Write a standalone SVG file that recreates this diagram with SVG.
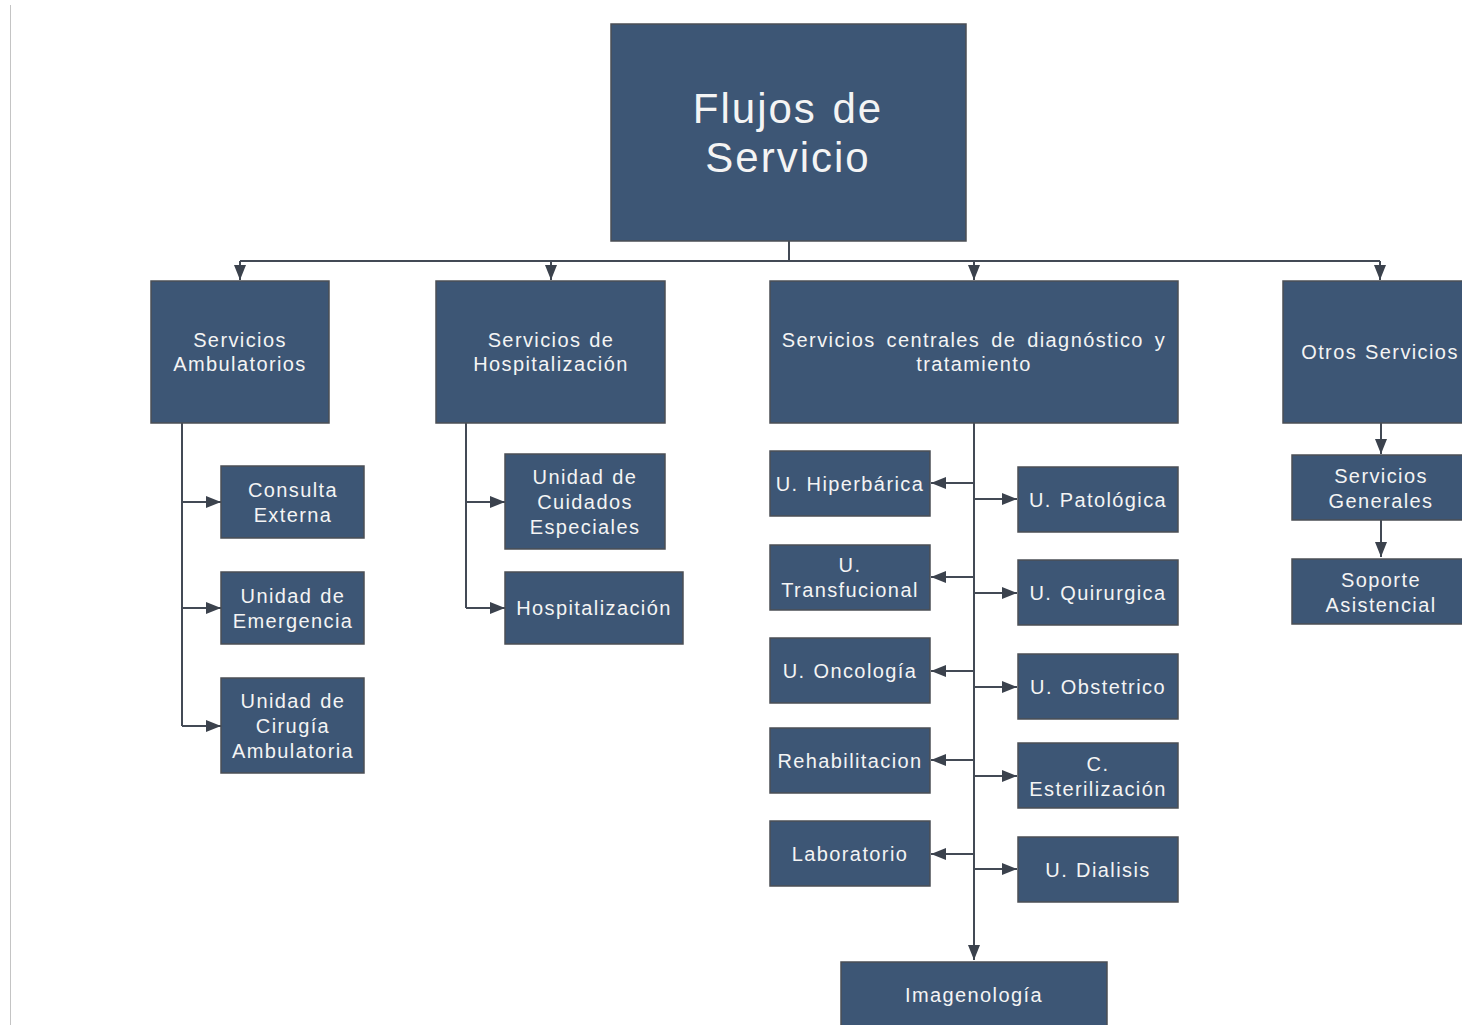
<svg xmlns="http://www.w3.org/2000/svg" width="1462" height="1025" viewBox="0 0 1462 1025">
<style>
.box{fill:#3d5675;stroke:#4b4f55;stroke-width:1.5}
.t{font-family:"Liberation Sans",Arial,sans-serif;font-size:20px;fill:#f4f4f4;text-anchor:middle;dominant-baseline:central;letter-spacing:1.4px;word-spacing:1px}
.tt{font-size:42px;letter-spacing:2px;word-spacing:2px}
.c{fill:none;stroke:#434a55;stroke-width:2}
</style>
<defs>
<marker id="ah" viewBox="0 0 15 12" refX="15" refY="6" markerWidth="15" markerHeight="12" markerUnits="userSpaceOnUse" orient="auto">
<path d="M0,0 L15,6 L0,12 z" fill="#3b424d"/>
</marker>
</defs>
<rect width="1462" height="1025" fill="#ffffff"/>
<line x1="10.5" y1="5" x2="10.5" y2="1025" stroke="#c4c4c4" stroke-width="1"/>
<g id="connectors">
<path class="c" d="M789,241 V261"/>
<path class="c" d="M240,261 H1380"/>
<path class="c" d="M240,261 V280" marker-end="url(#ah)"/>
<path class="c" d="M551,261 V280" marker-end="url(#ah)"/>
<path class="c" d="M974,261 V280" marker-end="url(#ah)"/>
<path class="c" d="M1380,261 V280" marker-end="url(#ah)"/>
<path class="c" d="M182,423 V726"/>
<path class="c" d="M182,502 H221" marker-end="url(#ah)"/>
<path class="c" d="M182,608 H221" marker-end="url(#ah)"/>
<path class="c" d="M182,726 H221" marker-end="url(#ah)"/>
<path class="c" d="M466,423 V608"/>
<path class="c" d="M466,502 H505" marker-end="url(#ah)"/>
<path class="c" d="M466,608 H505" marker-end="url(#ah)"/>
<path class="c" d="M974,423 V960" marker-end="url(#ah)"/>
<path class="c" d="M974,483 H931" marker-end="url(#ah)"/>
<path class="c" d="M974,577 H931" marker-end="url(#ah)"/>
<path class="c" d="M974,671 H931" marker-end="url(#ah)"/>
<path class="c" d="M974,760 H931" marker-end="url(#ah)"/>
<path class="c" d="M974,854 H931" marker-end="url(#ah)"/>
<path class="c" d="M974,499 H1017" marker-end="url(#ah)"/>
<path class="c" d="M974,593 H1017" marker-end="url(#ah)"/>
<path class="c" d="M974,687 H1017" marker-end="url(#ah)"/>
<path class="c" d="M974,776 H1017" marker-end="url(#ah)"/>
<path class="c" d="M974,869 H1017" marker-end="url(#ah)"/>
<path class="c" d="M1381,423 V454" marker-end="url(#ah)"/>
<path class="c" d="M1381,520 V557" marker-end="url(#ah)"/>
</g>
<g id="root"><rect class="box" x="611" y="24" width="355" height="217"/>
<text class="t tt" x="788" y="108">Flujos de</text><text class="t tt" x="788" y="157">Servicio</text></g>
<g id="amb"><rect class="box" x="151" y="281" width="178" height="142"/>
<text class="t" x="240" y="340">Servicios</text><text class="t" x="240" y="364">Ambulatorios</text></g>
<g id="hosp"><rect class="box" x="436" y="281" width="229" height="142"/>
<text class="t" x="551" y="340">Servicios de</text><text class="t" x="551" y="364">Hospitalización</text></g>
<g id="central"><rect class="box" x="770" y="281" width="408" height="142"/>
<text class="t" x="974" y="340" style="word-spacing:4px">Servicios centrales de diagnóstico y</text><text class="t" x="974" y="364">tratamiento</text></g>
<g id="otros"><rect class="box" x="1283" y="281" width="181" height="142"/>
<text class="t" x="1380" y="352">Otros Servicios</text></g>
<g id="consulta"><rect class="box" x="221" y="466" width="143" height="72"/>
<text class="t" x="293" y="490">Consulta</text><text class="t" x="293" y="515">Externa</text></g>
<g id="emergencia"><rect class="box" x="221" y="572" width="143" height="72"/>
<text class="t" x="293" y="596">Unidad de</text><text class="t" x="293" y="621">Emergencia</text></g>
<g id="cirugia"><rect class="box" x="221" y="678" width="143" height="95"/>
<text class="t" x="293" y="701">Unidad de</text><text class="t" x="293" y="726">Cirugía</text><text class="t" x="293" y="751">Ambulatoria</text></g>
<g id="cuidados"><rect class="box" x="505" y="454" width="160" height="95"/>
<text class="t" x="585" y="477">Unidad de</text><text class="t" x="585" y="502">Cuidados</text><text class="t" x="585" y="527">Especiales</text></g>
<g id="hospitalizacion"><rect class="box" x="505" y="572" width="178" height="72"/>
<text class="t" x="594" y="608">Hospitalización</text></g>
<g id="hiperbarica"><rect class="box" x="770" y="451" width="160" height="65"/>
<text class="t" x="850" y="484">U. Hiperbárica</text></g>
<g id="transfucional"><rect class="box" x="770" y="545" width="160" height="65"/>
<text class="t" x="850" y="565">U.</text><text class="t" x="850" y="590">Transfucional</text></g>
<g id="oncologia"><rect class="box" x="770" y="638" width="160" height="65"/>
<text class="t" x="850" y="671">U. Oncología</text></g>
<g id="rehab"><rect class="box" x="770" y="728" width="160" height="65"/>
<text class="t" x="850" y="761">Rehabilitacion</text></g>
<g id="lab"><rect class="box" x="770" y="821" width="160" height="65"/>
<text class="t" x="850" y="854">Laboratorio</text></g>
<g id="patologica"><rect class="box" x="1018" y="467" width="160" height="65"/>
<text class="t" x="1098" y="500">U. Patológica</text></g>
<g id="quirurgica"><rect class="box" x="1018" y="560" width="160" height="65"/>
<text class="t" x="1098" y="593">U. Quirurgica</text></g>
<g id="obstetrico"><rect class="box" x="1018" y="654" width="160" height="65"/>
<text class="t" x="1098" y="687">U. Obstetrico</text></g>
<g id="esterilizacion"><rect class="box" x="1018" y="743" width="160" height="65"/>
<text class="t" x="1098" y="764">C.</text><text class="t" x="1098" y="789">Esterilización</text></g>
<g id="dialisis"><rect class="box" x="1018" y="837" width="160" height="65"/>
<text class="t" x="1098" y="870">U. Dialisis</text></g>
<g id="imagen"><rect class="box" x="841" y="962" width="266" height="66"/>
<text class="t" x="974" y="995">Imagenología</text></g>
<g id="generales"><rect class="box" x="1292" y="455" width="172" height="65"/>
<text class="t" x="1381" y="476">Servicios</text><text class="t" x="1381" y="501">Generales</text></g>
<g id="soporte"><rect class="box" x="1292" y="559" width="172" height="65"/>
<text class="t" x="1381" y="580">Soporte</text><text class="t" x="1381" y="605">Asistencial</text></g>
</svg>
